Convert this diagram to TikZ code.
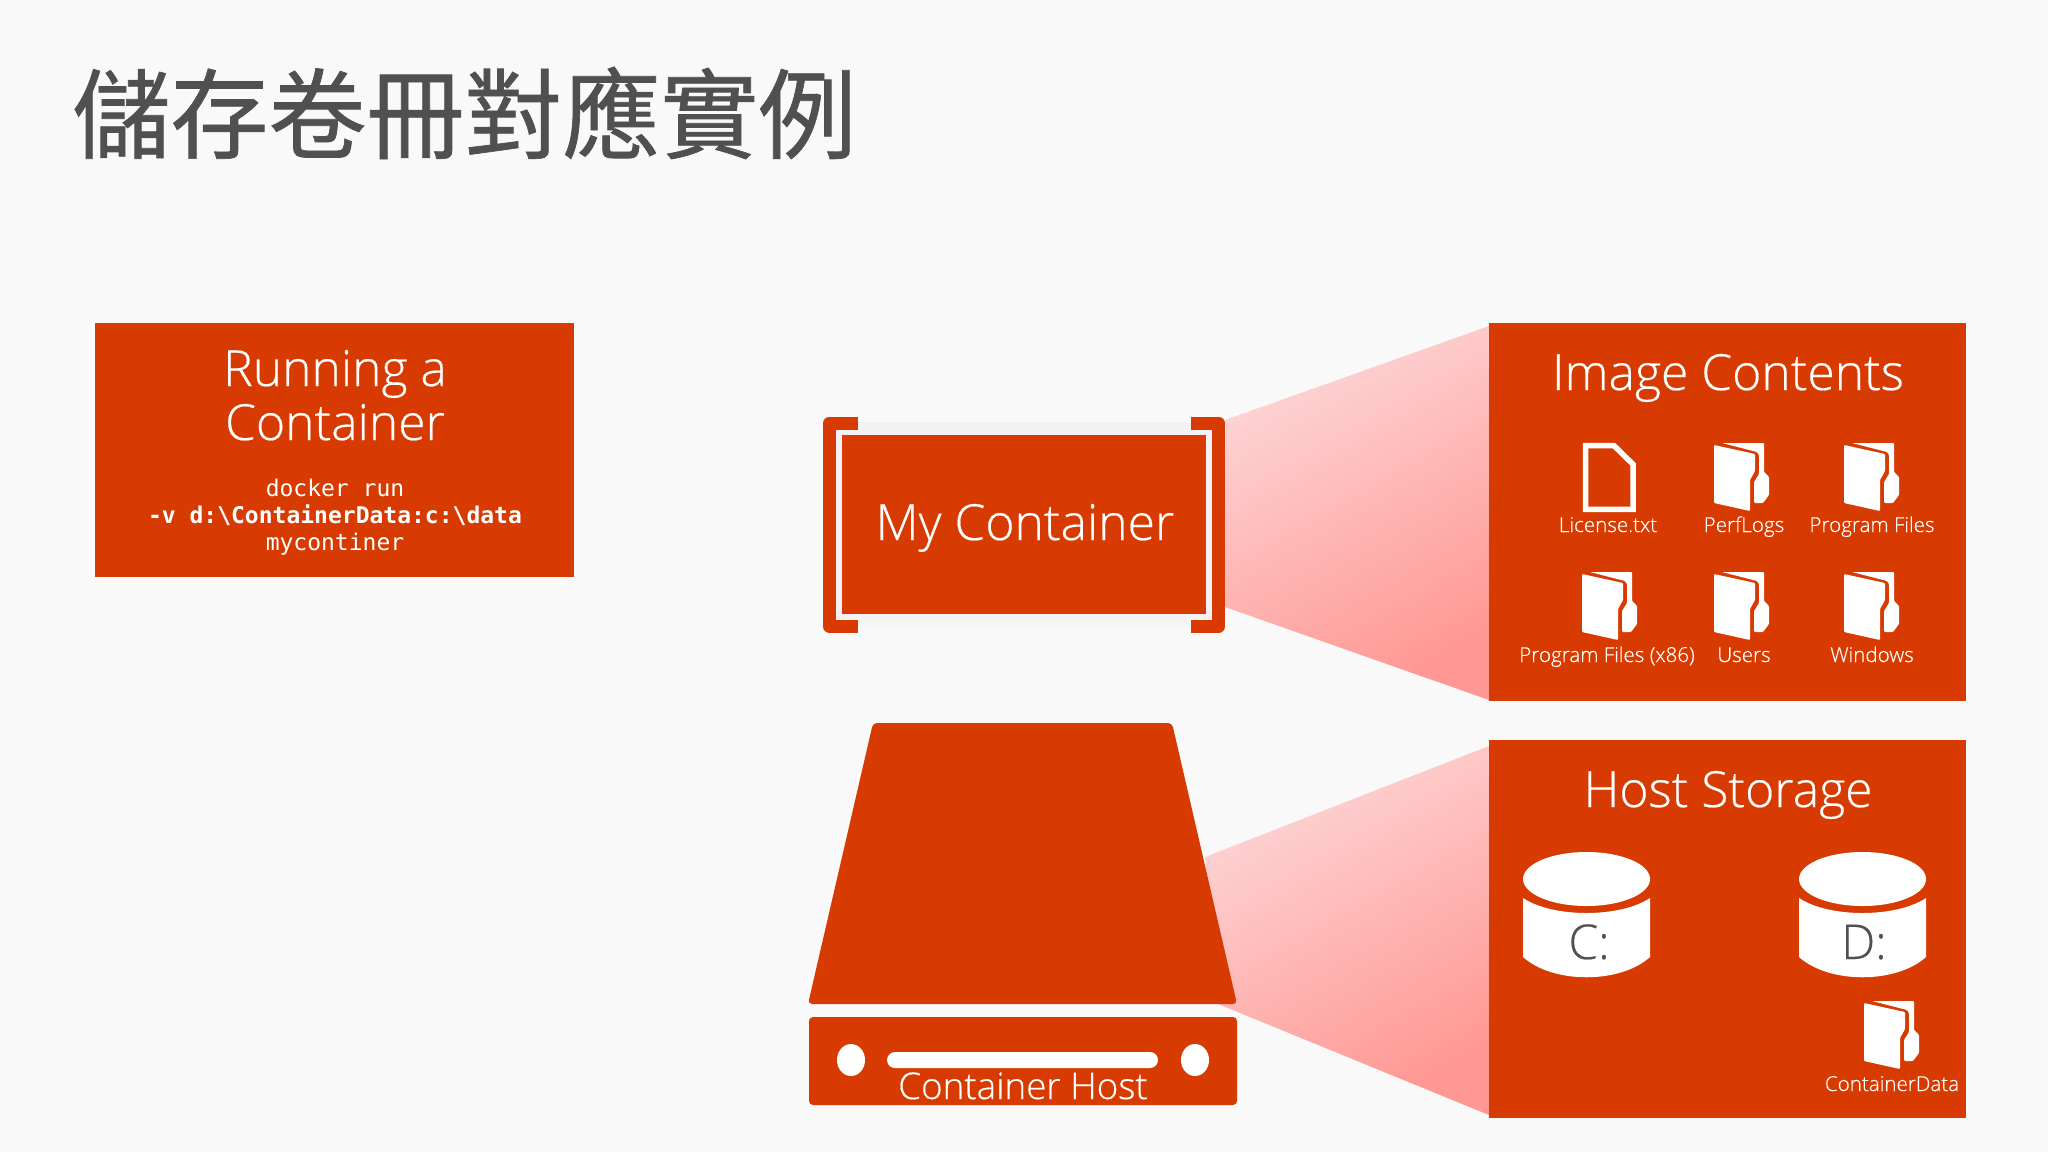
\documentclass[tikz,border=0pt]{standalone}
\usepackage{fontspec}
\setmainfont{Open Sans Light}[RawFeature={embolden=0.35}]
\setmonofont{DejaVu Sans Mono}
\newfontfamily\cjkfont{Noto Sans CJK TC}[RawFeature={embolden=0.7}]
\usepackage{xcolor}
\usetikzlibrary{shadings}
\definecolor{msorange}{HTML}{D83B01}
\definecolor{slidebg}{HTML}{F9F9F9}
\definecolor{titlegray}{HTML}{505050}
\definecolor{bandgray}{HTML}{F2F2F4}
\definecolor{pinklight}{HTML}{FDD6D6}
\definecolor{pinkdark}{HTML}{FF9894}

\tikzset{
  txtbase/.style={anchor=base, inner sep=0pt, outer sep=0pt, text=white, align=center},
  headtxt/.style={txtbase, font=\fontsize{24.9}{27}\selectfont},
  cmdtxt/.style={txtbase, font=\ttfamily\fontsize{11.5}{13.5}\selectfont},
  smalltxt/.style={txtbase, font=\fontsize{10.3}{12}\selectfont},
  drivetxt/.style={txtbase, text=titlegray, font=\fontsize{24}{26}\selectfont},
  funnel/.style={top color=pinklight, bottom color=pinkdark, shading angle=30},
  pics/folder/.style={code={
    \fill[white,rounded corners=0.5pt] (0,2)--(41,11)--(41,28)--(36,37)--(36,68)--(0,60)--cycle;
    \fill[white,rounded corners=0.5pt] (8,0)--(50,0)--(50,29)--(55,34)--(55,52)--(49,60)--(40,60)--(40,39)--(45,31)--(45,12)--(43,9)--cycle;
  }},
  pics/disk/.style={code={
    \fill[white] (63.5,27) ellipse[x radius=63.5, y radius=27];
    \fill[white] (0,46)..controls (30,66) and (97,66)..(127,46)--(127,105)..controls (97,132) and (30,132)..(0,105)--cycle;
  }}
}

\begin{document}
\begin{tikzpicture}[x=0.5pt, y=-0.5pt]
\useasboundingbox (0,0) rectangle (2048,1152);
\fill[slidebg] (0,0) rectangle (2048,1152);

%%%%% Title %%%%%
\node (slideTitle) [anchor=base west, inner sep=0pt, text=titlegray, font=\cjkfont\fontsize{49}{51}\selectfont] at (72,151) {儲存卷冊對應實例};

%%%%% Running box %%%%%
\fill[msorange] (95,323) rectangle (574,577);
\node (runTitleA) [headtxt] at (335,386) {Running a};
\node (runTitleB) [headtxt] at (335,440) {Container};
\node (runCmdA) [cmdtxt] at (335,496.5) {docker run};
\node (runCmdB) [cmdtxt, font=\ttfamily\bfseries\fontsize{11.5}{13.5}\selectfont] at (335,523.5) {-v d:\textbackslash ContainerData:c:\textbackslash data};
\node (runCmdC) [cmdtxt] at (335,550.5) {mycontiner};

%%%%% Funnels %%%%%
\shade[funnel] (1225,420)--(1489,326)--(1489,700)--(1225,607)--cycle;
\shade[funnel] (1205,857)--(1489,746)--(1489,1115)--(1218,1004)--cycle;

%%%%% My container %%%%%
\fill[bandgray] (836,422) rectangle (1213,435);
\shade[top color=bandgray, bottom color=slidebg] (836,614) rectangle (1213,632);
\fill[bandgray] (836,430) rectangle (842,614);
\fill[bandgray] (1206,430) rectangle (1213,614);
\fill[msorange] (842,435) rectangle (1206,614);
\draw[msorange, line width=6.5pt, line join=round] (858,423)--(829.5,423)--(829.5,626.5)--(858,626.5);
\draw[msorange, line width=6.5pt, line join=round] (1191,423)--(1218.5,423)--(1218.5,626.5)--(1191,626.5);
\node (myContainer) [headtxt] at (1025,540) {My Container};

%%%%% Container host %%%%%
\fill[msorange, rounded corners=2pt] (873,723)--(1172,723)--(1237,1004)--(808,1004)--cycle;
\fill[msorange, rounded corners=2pt] (809,1017) rectangle (1237,1105);
\fill[white] (851,1060) ellipse[x radius=14, y radius=16];
\fill[white] (1195,1060) ellipse[x radius=14, y radius=16];
\fill[white, rounded corners=4pt] (887,1052) rectangle (1158,1068);
\node (hostLabel) [txtbase, font=\fontsize{18.4}{20}\selectfont] at (1023,1099) {Container Host};

%%%%% Image contents %%%%%
\fill[msorange] (1489,323) rectangle (1966,701);
\node (imageTitle) [headtxt] at (1728,390) {Image Contents};
\draw[white, line width=2.75pt, miter limit=10] (1585.7,445.7)--(1614,445.7)--(1633.2,464.5)--(1633.2,509.3)--(1585.7,509.3)--cycle;
\foreach \fx/\fy in {1714/443,1844/443,1582/572,1714/572,1844/572}{
  \pic at (\fx,\fy) {folder};
}
\foreach \lx/\ly/\lname/\ltxt in {1608/532/license/License.txt,1744/532/perflogs/PerfLogs,1872/532/progfiles/Program Files,1607/662/progx/Program Files (x86),1744/662/users/Users,1872/662/windows/Windows}{
  \node (\lname) [smalltxt] at (\lx,\ly) {\ltxt};
}

%%%%% Host storage %%%%%
\fill[msorange] (1489,740) rectangle (1966,1118);
\node (storageTitle) [headtxt] at (1728,807) {Host Storage};
\pic at (1523,852) {disk};
\pic at (1799,852) {disk};
\node (driveC) [drivetxt] at (1589,959) {C:};
\node (driveD) [drivetxt] at (1864,959) {D:};
\pic at (1864,1001) {folder};
\node (dataLabel) [smalltxt] at (1892,1091) {ContainerData};
\end{tikzpicture}
\end{document}
